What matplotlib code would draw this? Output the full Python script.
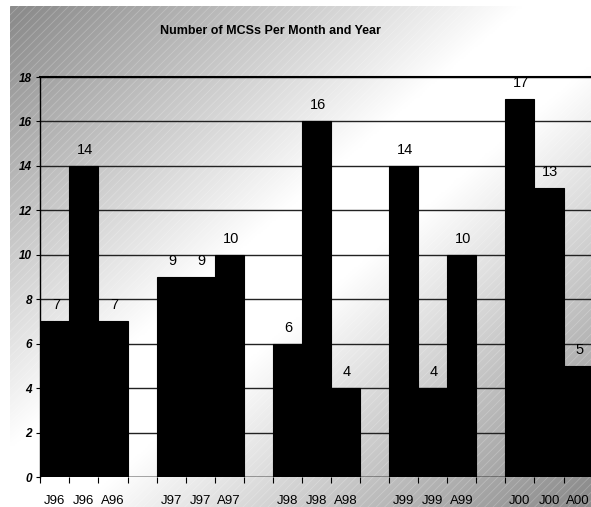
import numpy as np
import matplotlib
matplotlib.use("Agg")
import matplotlib.pyplot as plt
from matplotlib.patches import Rectangle

# ---- data ----
categories = ['J96', 'J96', 'A96', '', 'J97', 'J97', 'A97', '',
              'J98', 'J98', 'A98', '', 'J99', 'J99', 'A99', '',
              'J00', 'J00', 'A00']
values = [7, 14, 7, np.nan, 9, 9, 10, np.nan,
          6, 16, 4, np.nan, 14, 4, 10, np.nan,
          17, 13, 5]
title = 'Number of MCSs Per Month and Year'
y_ticks = [0, 2, 4, 6, 8, 10, 12, 14, 16, 18]

plt.rcParams['font.family'] = ['Liberation Sans', 'DejaVu Sans']

W, H = 591, 507
fig = plt.figure(figsize=(W / 100, H / 100), dpi=100)
fig.patch.set_facecolor('white')

# ---- background gradient with diagonal stripes ----
bg = fig.add_axes([10 / W, 0, (W - 10) / W, (H - 6) / H])
bg.set_axis_off()
nx, ny = 300, 260
u = np.linspace(0, 1, nx)[None, :]
v = np.linspace(0, 1, ny)[:, None]
s = u + v
d = np.clip((np.abs(s - 1.0) - 0.12) / 0.85, 0, 1)
g = 1 - 0.45 * d
img = np.dstack([g, g, g])
bg.imshow(img, extent=[0, 1, 0, 1], origin='upper', aspect='auto',
          interpolation='bilinear')
plt.rcParams['hatch.linewidth'] = 0.6
bg.add_patch(Rectangle((0, 0), 1, 1, facecolor='none',
                       edgecolor=(1, 1, 1, 0.22), hatch='////', linewidth=0))
bg.set_xlim(0, 1)
bg.set_ylim(0, 1)

# ---- main axes ----
left = 40.3 / W
bottom = 1 - 477 / H
top = 1 - 77 / H
n = len(categories)
catw = 29.07
width = n * catw / W
ax = fig.add_axes([left, bottom, width, top - bottom])
ax.patch.set_alpha(0)

x = np.arange(n)
ax.bar(x, values, width=1.0, color='black', edgecolor='black',
       linewidth=0.8, zorder=3)

ax.set_xlim(-0.5, n - 0.5)
ax.set_ylim(0, 18)
ax.set_yticks(y_ticks)
ax.set_yticklabels([str(t) for t in y_ticks], fontsize=8.5,
                   fontweight='bold', fontstyle='italic')
ax.yaxis.grid(True, color='#222222', linewidth=1.0, zorder=1)
ax.set_axisbelow(True)

ax.set_xticks(x)
ax.set_xticklabels(categories, fontsize=9.5)
ax.tick_params(axis='x', which='major', length=0, pad=13)
ax.set_xticks(np.arange(n + 1) - 0.5, minor=True)
ax.tick_params(axis='x', which='minor', length=4, width=0.8,
               direction='out', color='black')
ax.tick_params(axis='y', length=3, width=0.8, direction='out', pad=3)

for side in ['right', 'bottom']:
    ax.spines[side].set_visible(False)
ax.spines['left'].set_linewidth(1.0)
ax.spines['top'].set_linewidth(1.5)
ax.axhline(0, color='black', linewidth=1.0, zorder=4)

for xi, val in zip(x, values):
    if np.isnan(val):
        continue
    ax.annotate(f'{int(val)}', (xi, val), xytext=(1, 11.5),
                textcoords='offset points', ha='center', va='center',
                fontsize=10.5, zorder=5, annotation_clip=False)

fig.text(270 / W, 1 - 31 / H, title, ha='center', va='center',
         fontsize=9, fontweight='bold')

fig.savefig('out.png', dpi=100)
